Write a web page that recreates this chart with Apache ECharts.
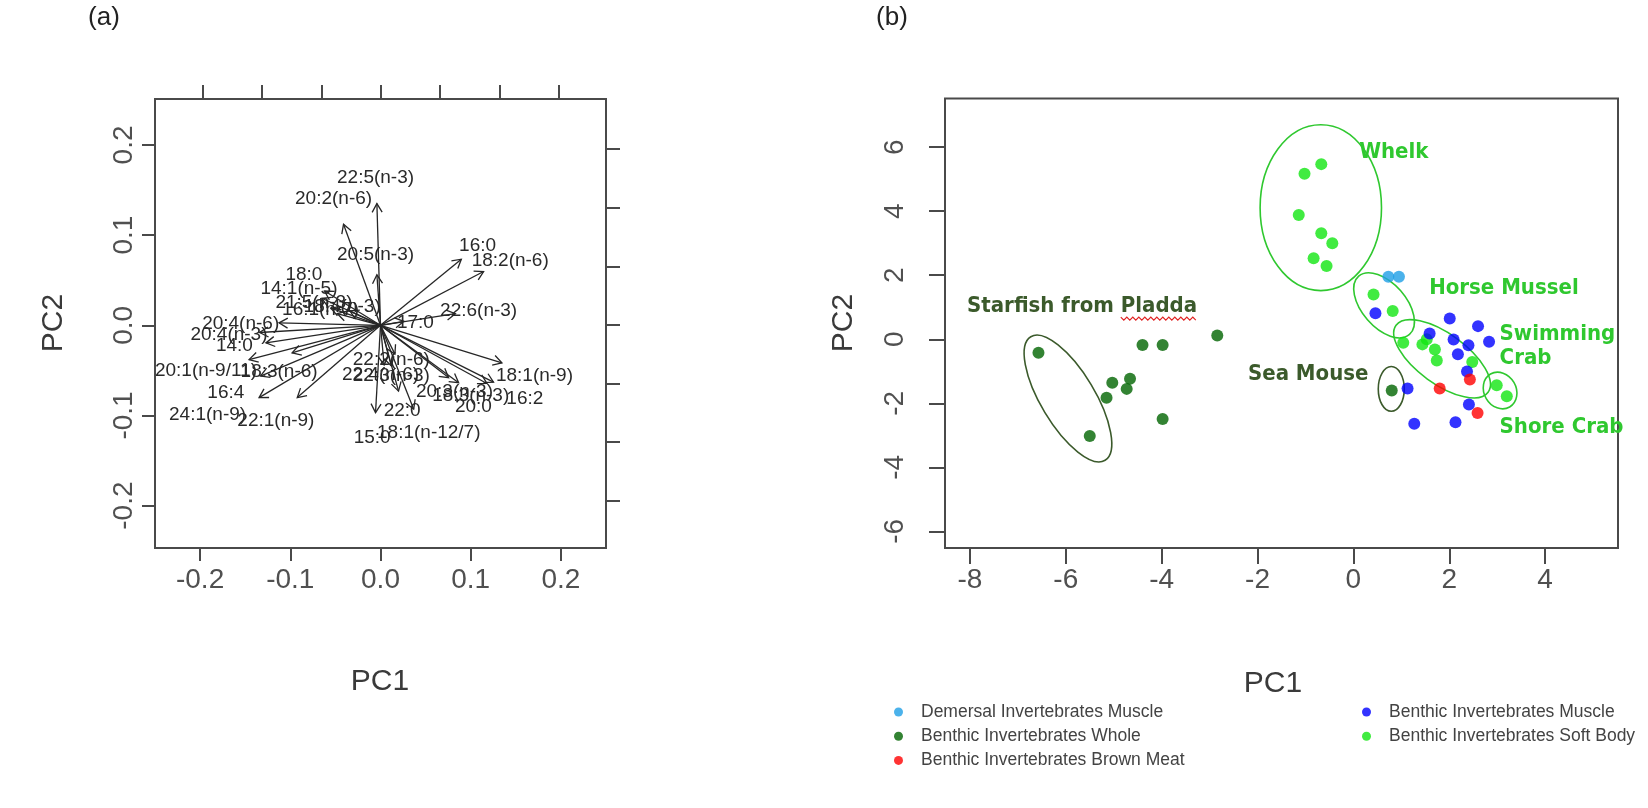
<!DOCTYPE html>
<html><head><meta charset="utf-8">
<script src="https://cdn.jsdelivr.net/npm/echarts@6/dist/echarts.min.js"></script>
<style>html,body{margin:0;padding:0;background:#fff}#c{width:1648px;height:808px}</style>
</head><body><div id="c"></div>
<script>
// ---------- Panel (a): PCA loadings (arrow tips and label centres, PC1/PC2 units) ----------
const faNames = ["22:5(n-3)","20:2(n-6)","20:5(n-3)","16:0","18:2(n-6)","22:6(n-3)","17:0","18:1(n-9)",
  "20:3(n-3)","18:3(n-3)","16:2","20:0","15:0","18:1(n-12/7)","22:0","22:4(n-6)","22:3(n-3)","22:2(n-6)",
  "20:4(n-6)","20:4(n-3)","14:0","20:1(n-9/11)","18:3(n-6)","16:4","24:1(n-9)","22:1(n-9)",
  "18:0","14:1(n-5)","21:5(n-3)","16:1(n-7)","18:4(n-3)"];
const faTipX = [-0.004,-0.041,-0.004,0.0896,0.1143,0.083,0.0258,0.1346,
  0.0755,0.0866,0.1253,0.118,-0.0055,0.0368,0.020,0.004,0.012,0.016,
  -0.1125,-0.134,-0.127,-0.1457,-0.098,-0.133,-0.1346,-0.0923,
  -0.062,-0.065,-0.055,-0.048,-0.034];
const faTipY = [0.135,0.112,0.056,0.0733,0.0597,0.0129,0.0044,-0.0416,
  -0.058,-0.0637,-0.063,-0.0645,-0.0968,-0.093,-0.073,-0.044,-0.045,-0.032,
  0.0027,-0.008,-0.0195,-0.038,-0.0306,-0.0563,-0.0802,-0.0802,
  0.038,0.030,0.019,0.013,0.016];
const faLabelX = [-0.0055,-0.052,-0.0055,0.1076,0.1438,0.1088,0.0387,0.1707,
  0.082,0.100,0.160,0.103,-0.0092,0.0535,0.024,0.000,0.012,0.012,
  -0.155,-0.168,-0.162,-0.1935,-0.1124,-0.1715,-0.1917,-0.116,
  -0.0849,-0.0904,-0.0738,-0.0664,-0.0425];
const faLabelY = [0.164,0.140,0.078,0.0884,0.0718,0.0166,0.0033,-0.0564,
  -0.074,-0.078,-0.082,-0.090,-0.1245,-0.1197,-0.095,-0.0545,-0.056,-0.038,
  0.002,-0.0103,-0.0232,-0.0508,-0.0519,-0.0747,-0.0987,-0.106,
  0.056,0.0402,0.0248,0.0173,0.021];
const scoreTicksA = [-0.2,-0.1,0.0,0.1,0.2];
const loadingTicks = [-3,-2,-1,0,1,2,3];

// ---------- Panel (b): PCA scores ----------
const ticksBX = [-8,-6,-4,-2,0,2,4];
const ticksBY = [-6,-4,-2,0,2,4,6];
const demersalMuscleX = [0.73,0.95];
const demersalMuscleY = [1.95,1.95];
const benthicWholeX = [-6.57,-5.50,-5.03,-5.15,-4.66,-4.73,-4.40,-3.98,-3.98,-2.84,0.80];
const benthicWholeY = [-0.42,-3.02,-1.36,-1.83,-1.23,-1.55,-0.18,-0.18,-2.49,0.12,-1.60];
const brownMeatX = [1.80,2.43,2.59];
const brownMeatY = [-1.54,-1.26,-2.30];
const benthicMuscleX = [0.46,2.01,2.60,1.59,2.09,2.40,2.83,2.18,2.37,1.13,2.41,1.27,2.13];
const benthicMuscleY = [0.81,0.65,0.41,0.18,-0.01,-0.19,-0.08,-0.47,-1.01,-1.54,-2.04,-2.64,-2.59];
const softBodyX = [-1.02,-0.67,-1.14,-0.67,-0.44,-0.83,-0.56,0.42,0.82,1.04,1.44,1.53,1.70,1.74,2.48,2.99,3.20];
const softBodyY = [5.17,5.47,3.88,3.31,3.00,2.53,2.29,1.40,0.88,-0.11,-0.16,0.00,-0.32,-0.66,-0.71,-1.44,-1.78];

// group ellipses: centre, end of major semi-axis, minor/major ratio
const ellNames = ["Whelk","Horse Mussel","Swimming Crab","Shore Crab","Sea Mouse","Starfish"];
const ellCX = [-0.68,0.64,1.85,3.06,0.79,-5.955];
const ellCY = [4.11,1.06,-0.61,-1.60,-1.55,-1.85];
const ellEX = [-0.68,1.17,2.81,3.26,0.79,-5.18];
const ellEY = [6.70,0.15,-1.655,-2.115,-0.85,-3.78];
const ellRatio = [0.732,0.57,0.44,0.84,0.58,0.375];
const ellKind = ["soft","soft","soft","soft","whole","whole"];

const annText = ["Whelk","Horse Mussel","Swimming","Crab","Shore Crab","Sea Mouse","Starfish from Pladda"];
const annX = [0.12,1.58,3.05,3.05,3.05,-2.20,-8.06];
const annY = [5.84,1.60,0.16,-0.60,-2.74,-1.10,1.02];
const annKind = ["soft","soft","soft","soft","soft","whole","whole"];

const names = {
  dm: "Demersal Invertebrates Muscle",
  bw: "Benthic Invertebrates Whole",
  bb: "Benthic Invertebrates Brown Meat",
  bm: "Benthic Invertebrates Muscle",
  bs: "Benthic Invertebrates Soft Body"
};

// ---------- styling ----------
const SANS = "'Liberation Sans', Arial, sans-serif";
const ANN_FONT = "bold 22px 'Liberation Sans Narrow', 'DejaVu Sans Condensed', sans-serif";
const AX = '#4a4a4a';
const TXT = '#3a3a3a';
const kindColor = {soft: '#2fc82f', whole: '#3b5a2b'};
const zip = (xs, ys) => xs.map((x, i) => [x, ys[i]]);
const mctx = document.createElement('canvas').getContext('2d');
const textW = (s, f) => { mctx.font = f; return mctx.measureText(s).width; };

function axis(opts) {
  return {
    type: 'value', min: opts.min, max: opts.max, gridIndex: opts.grid, position: opts.pos,
    axisLine: {show: false, onZero: false}, splitLine: {show: false},
    axisTick: {show: true, inside: false, length: opts.tick, customValues: opts.ticks,
      lineStyle: {color: AX, width: 2}},
    axisLabel: {show: !!opts.labels, customValues: opts.ticks, fontSize: 28, color: '#505050',
      fontFamily: SANS, margin: opts.margin || 8, rotate: opts.rotate || 0,
      formatter: opts.fmt || (v => String(v))}
  };
}

const legendText = {fontSize: 17.5, lineHeight: 18, color: '#434343', fontFamily: SANS, padding: [0, 0, 0, 13]};

const chart = echarts.init(document.getElementById('c'));
const option = {
  animation: false,
  backgroundColor: '#fff',
  grid: [
    {left: 155, top: 99, width: 451, height: 449, show: true, borderColor: AX, borderWidth: 2},
    {left: 945, top: 98.5, width: 673, height: 449.5, show: true, borderColor: AX, borderWidth: 2}
  ],
  xAxis: [
    axis({grid: 0, pos: 'bottom', min: -0.25, max: 0.25, ticks: scoreTicksA, tick: 13, labels: true, margin: 18, fmt: v => v.toFixed(1)}),
    axis({grid: 0, pos: 'top', min: -3.806, max: 3.794, ticks: loadingTicks, tick: 14}),
    axis({grid: 1, pos: 'bottom', min: -8.52, max: 5.52, ticks: ticksBX, tick: 16, labels: true, margin: 18})
  ],
  yAxis: [
    axis({grid: 0, pos: 'left', min: -0.247, max: 0.251, ticks: scoreTicksA, tick: 13, labels: true, margin: 17, rotate: 90, fmt: v => v.toFixed(1)}),
    axis({grid: 0, pos: 'right', min: -3.805, max: 3.857, ticks: loadingTicks, tick: 14}),
    axis({grid: 1, pos: 'left', min: -6.52, max: 7.52, ticks: ticksBY, tick: 16, labels: true, margin: 36, rotate: 90})
  ],
  legend: [
    {data: [names.dm, names.bw, names.bb], left: 894, top: 703, orient: 'vertical', itemGap: 6.2, padding: 0,
     itemWidth: 9, itemHeight: 9, icon: 'circle', selectedMode: false, textStyle: legendText},
    {data: [names.bm, names.bs], left: 1362, top: 703, orient: 'vertical', itemGap: 6.2, padding: 0,
     itemWidth: 9, itemHeight: 9, icon: 'circle', selectedMode: false, textStyle: legendText}
  ],
  graphic: [
    {type: 'text', x: 104, y: 18, style: {text: '(a)', fill: '#222', font: '26px ' + SANS, align: 'center', verticalAlign: 'middle'}},
    {type: 'text', x: 892, y: 18, style: {text: '(b)', fill: '#222', font: '26px ' + SANS, align: 'center', verticalAlign: 'middle'}},
    {type: 'text', x: 380, y: 682, style: {text: 'PC1', fill: TXT, font: '30px ' + SANS, align: 'center', verticalAlign: 'middle'}},
    {type: 'text', x: 54, y: 323, rotation: Math.PI / 2, style: {text: 'PC2', fill: TXT, font: '30px ' + SANS, align: 'center', verticalAlign: 'middle'}},
    {type: 'text', x: 1273, y: 684, style: {text: 'PC1', fill: TXT, font: '30px ' + SANS, align: 'center', verticalAlign: 'middle'}},
    {type: 'text', x: 844, y: 323, rotation: Math.PI / 2, style: {text: 'PC2', fill: TXT, font: '30px ' + SANS, align: 'center', verticalAlign: 'middle'}}
  ],
  series: [
    // loading labels (drawn first, arrows on top as in R biplot)
    {type: 'custom', xAxisIndex: 0, yAxisIndex: 0, silent: true, data: zip(faLabelX, faLabelY),
     renderItem: (params, api) => {
       const p = api.coord([api.value(0), api.value(1)]);
       return {type: 'text', x: p[0], y: p[1], style: {text: faNames[params.dataIndex], fill: '#2a2a2a',
         font: '19px ' + SANS, align: 'center', verticalAlign: 'middle'}};
     }},
    // loading arrows
    {type: 'custom', xAxisIndex: 0, yAxisIndex: 0, silent: true, data: zip(faTipX, faTipY),
     renderItem: (params, api) => {
       const o = api.coord([0, 0]);
       const t = api.coord([api.value(0), api.value(1)]);
       const dx = t[0] - o[0], dy = t[1] - o[1], L = Math.hypot(dx, dy) || 1;
       const ux = dx / L, uy = dy / L, h = 10, c = Math.cos(Math.PI / 6), s = Math.sin(Math.PI / 6);
       const b1 = [t[0] - h * (ux * c - uy * s), t[1] - h * (uy * c + ux * s)];
       const b2 = [t[0] - h * (ux * c + uy * s), t[1] - h * (uy * c - ux * s)];
       return {type: 'group', children: [
         {type: 'line', shape: {x1: o[0], y1: o[1], x2: t[0], y2: t[1]}, style: {stroke: '#262626', lineWidth: 1.3}},
         {type: 'polyline', shape: {points: [b1, t, b2]}, style: {stroke: '#262626', fill: null, lineWidth: 1.3}}
       ]};
     }},
    // score points
    {name: names.bw, type: 'scatter', xAxisIndex: 2, yAxisIndex: 2, symbolSize: 12, itemStyle: {color: '#006400'}, data: zip(benthicWholeX, benthicWholeY)},
    {name: names.bs, type: 'scatter', xAxisIndex: 2, yAxisIndex: 2, symbolSize: 12, itemStyle: {color: '#12e612'}, data: zip(softBodyX, softBodyY)},
    {name: names.bm, type: 'scatter', xAxisIndex: 2, yAxisIndex: 2, symbolSize: 12, itemStyle: {color: '#0000ff'}, data: zip(benthicMuscleX, benthicMuscleY)},
    {name: names.bb, type: 'scatter', xAxisIndex: 2, yAxisIndex: 2, symbolSize: 12, itemStyle: {color: '#ff0000'}, data: zip(brownMeatX, brownMeatY)},
    {name: names.dm, type: 'scatter', xAxisIndex: 2, yAxisIndex: 2, symbolSize: 12, itemStyle: {color: '#1e9fe6'}, data: zip(demersalMuscleX, demersalMuscleY)},
    // group ellipses
    {type: 'custom', xAxisIndex: 2, yAxisIndex: 2, silent: true, data: zip(ellCX, ellCY),
     renderItem: (params, api) => {
       const i = params.dataIndex;
       const c = api.coord([ellCX[i], ellCY[i]]);
       const e = api.coord([ellEX[i], ellEY[i]]);
       const dx = e[0] - c[0], dy = e[1] - c[1], a = Math.hypot(dx, dy);
       return {type: 'ellipse', x: c[0], y: c[1], rotation: Math.atan2(-dy, dx),
         shape: {cx: 0, cy: 0, rx: a, ry: a * ellRatio[i]},
         style: {fill: 'none', stroke: kindColor[ellKind[i]], lineWidth: 1.6}};
     }},
    // group annotations
    {type: 'custom', xAxisIndex: 2, yAxisIndex: 2, silent: true, data: zip(annX, annY),
     renderItem: (params, api) => {
       const i = params.dataIndex;
       const p = api.coord([api.value(0), api.value(1)]);
       const children = [{type: 'text', x: p[0], y: p[1], style: {text: annText[i], fill: kindColor[annKind[i]],
         font: ANN_FONT, align: 'left', verticalAlign: 'middle'}}];
       const word = 'Pladda';
       const k = annText[i].indexOf(word);
       if (k >= 0) {
         const x0 = p[0] + textW(annText[i].slice(0, k), ANN_FONT);
         const x1 = p[0] + textW(annText[i].slice(0, k + word.length), ANN_FONT);
         const pts = [];
         let up = true;
         for (let x = x0; x <= x1; x += 3) { pts.push([x, p[1] + 12 + (up ? -1.5 : 1.5)]); up = !up; }
         children.push({type: 'polyline', shape: {points: pts}, style: {stroke: '#e02424', fill: null, lineWidth: 1.2}});
       }
       return {type: 'group', children};
     }}
  ]
};
chart.setOption(option);
</script>
</body></html>
